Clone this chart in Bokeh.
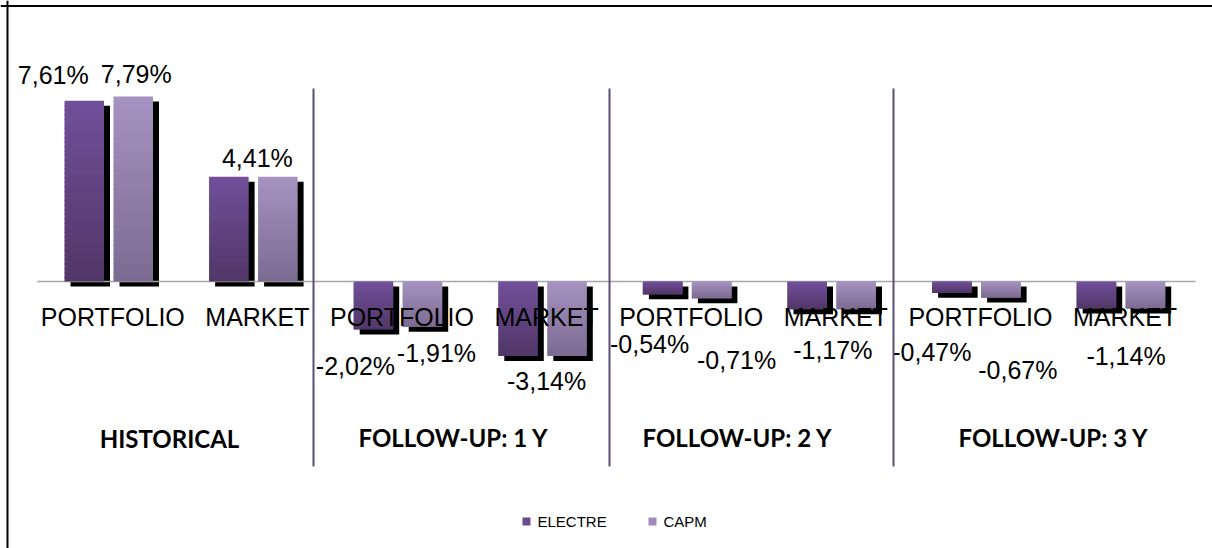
from bokeh.plotting import figure
from bokeh.models import Range1d, Span
from bokeh.core.properties import value
from bokeh.embed import file_html
from bokeh.resources import INLINE

# ---- data -------------------------------------------------------------
groups = ["HISTORICAL", "FOLLOW-UP: 1 Y", "FOLLOW-UP: 2 Y", "FOLLOW-UP: 3 Y"]
subcats = ["PORTFOLIO", "MARKET"]
series = ["ELECTRE", "CAPM"]
electre = [7.61, 4.41, -2.02, -3.14, -0.54, -1.17, -0.47, -1.14]
capm = [7.79, 4.41, -1.91, -3.14, -0.71, -1.17, -0.67, -1.14]

# ---- layout (pixels) --------------------------------------------------
W, H = 1212, 548
ORIGIN_X, SLOT_PX = 37.0, 144.6      # left end of category axis, width of one category
ZERO_Y, PX_PER_PCT = 281.0, 23.75    # zero line, pixels per percentage point
BAR_W = 39.5
BAR_LEFT = [27.0, 76.0]              # bar left edge inside a category slot
SHADOW_DX, SHADOW_DY = 6.0, 5.0
N_STEPS = 40

# value label offsets (dx, dy) from the bar centre / bar end, in pixels
LABEL_OFFSETS = [(-31, -26), (3, -22), (3, -19),
                 (-18, 37), (14, 26), (3, 25),
                 (-13, 50), (25, 62), (0, 41),
                 (-20, 59), (17, 73), (4, 47)]
TITLE_POS = [(169, 438), (453, 437), (737, 437), (1053, 437)]
SEPARATOR_X = [313, 609, 893]

GRAD = [("#71509a", "#513667"), ("#a693c1", "#7b6a90")]
LEGEND_COLORS = ["#6a4b8c", "#a08cba"]
FONT = value("Liberation Sans")


def sx(px):
    return (px - ORIGIN_X) / SLOT_PX


def sy(py):
    return (ZERO_Y - py) / PX_PER_PCT


def mix(c0, c1, t):
    a = [int(c0[i:i + 2], 16) for i in (1, 3, 5)]
    b = [int(c1[i:i + 2], 16) for i in (1, 3, 5)]
    return "#%02x%02x%02x" % tuple(round(a[k] + (b[k] - a[k]) * t) for k in range(3))


p = figure(width=W, height=H, output_backend="svg", toolbar_location=None,
           x_range=Range1d(sx(0), sx(W)), y_range=Range1d(sy(H), sy(0)),
           min_border=0)
p.axis.visible = False
p.grid.visible = False
p.outline_line_color = None

values = [electre, capm]
n = len(electre)
dxu = SHADOW_DX / SLOT_PX
dyu = SHADOW_DY / PX_PER_PCT
bw = BAR_W / SLOT_PX

# chart frame: left and top edges
p.add_layout(Span(location=sx(7), dimension="height", line_color="black", line_width=2))
p.add_layout(Span(location=sy(5.5), dimension="width", line_color="black", line_width=2))

# shadows
sl, sr, st, sb = [], [], [], []
for s in range(2):
    for i in range(n):
        v = values[s][i]
        left = i + BAR_LEFT[s] / SLOT_PX
        sl.append(left + dxu)
        sr.append(left + bw + dxu)
        st.append(max(v, 0) - dyu)
        sb.append(min(v, 0) - dyu)
p.quad(left=sl, right=sr, top=st, bottom=sb, fill_color="black", line_color=None)

# zero line
p.segment(x0=[0], y0=[0], x1=[sx(1195)], y1=[0], line_color="#a6a6a6", line_width=1.5)

# gradient bars, built from thin overlapping horizontal slices
gl, gr, gt, gb, gc = [], [], [], [], []
overlap = 1.0 / PX_PER_PCT
for s in range(2):
    for i in range(n):
        v = values[s][i]
        left = i + BAR_LEFT[s] / SLOT_PX
        top, bot = max(v, 0), min(v, 0)
        for k in range(N_STEPS):
            t0 = top - (top - bot) * k / N_STEPS
            t1 = top - (top - bot) * (k + 1) / N_STEPS
            gl.append(left)
            gr.append(left + bw)
            gt.append(t0)
            gb.append(max(t1 - overlap, bot) if k < N_STEPS - 1 else t1)
            gc.append(mix(GRAD[s][0], GRAD[s][1], (k + 0.5) / N_STEPS))
p.quad(left=gl, right=gr, top=gt, bottom=gb, fill_color=gc, line_color=None)

# value labels
lx, ly, lt = [], [], []
j = 0
for i in range(n):
    if electre[i] == capm[i]:
        anchors = [(i + 0.5, electre[i])]
    else:
        anchors = [(i + (BAR_LEFT[s] + BAR_W / 2) / SLOT_PX, values[s][i]) for s in range(2)]
    for cx, v in anchors:
        dx, dy = LABEL_OFFSETS[j]
        j += 1
        lx.append(cx + dx / SLOT_PX)
        ly.append(v - dy / PX_PER_PCT)
        lt.append(("%.2f%%" % v).replace(".", ","))
p.text(x=lx, y=ly, text=lt, text_font=FONT, text_font_size=value("25px"),
       text_align="center", text_baseline="middle", text_color="black")

# category labels
p.text(x=[i + 0.5 + 3 / SLOT_PX for i in range(n)], y=[sy(316)] * n,
       text=[subcats[i % 2] for i in range(n)], text_font=FONT,
       text_font_size=value("25px"), text_align="center", text_baseline="middle",
       text_color="black")

# group separators and titles
p.segment(x0=[sx(x) for x in SEPARATOR_X], y0=[sy(88)] * 3,
          x1=[sx(x) for x in SEPARATOR_X], y1=[sy(466)] * 3,
          line_color="#5b4f7a", line_width=2)
p.text(x=[sx(a) for a, _ in TITLE_POS], y=[sy(b) for _, b in TITLE_POS], text=groups,
       text_font=value("Lato"), text_font_style="bold", text_font_size=value("24px"),
       text_align="center", text_baseline="middle", text_color="black")

# legend
p.scatter(x=[sx(526), sx(652)], y=[sy(521)] * 2, marker="square", size=8,
          fill_color=LEGEND_COLORS, line_color=None)
p.text(x=[sx(537), sx(663)], y=[sy(521)] * 2, text=series, text_font=FONT,
       text_font_size=value("15px"), text_align="left", text_baseline="middle",
       text_color="black")

open("out.html", "w").write(file_html(p, INLINE))
